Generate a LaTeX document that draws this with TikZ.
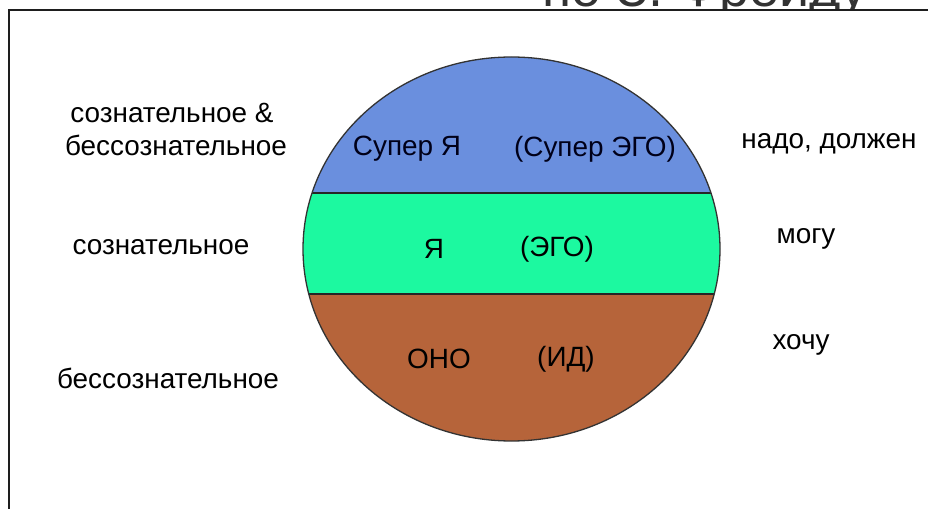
\documentclass[tikz,border=0pt]{standalone}
\usepackage{fontspec}
\setmainfont{Liberation Sans}
\definecolor{superblue}{HTML}{6A8FDE}
\definecolor{egogreen}{HTML}{1CF9A0}
\definecolor{idbrown}{HTML}{B6643A}
\definecolor{framegray}{HTML}{1E1E1E}
\tikzset{
  lbl/.style={inner sep=0pt, font=\fontsize{28}{32}\selectfont, text=black, align=center},
  inlbl/.style={lbl, text=black!90!blue},
}
\begin{document}
\begin{tikzpicture}[x=1bp,y=-1bp]
\useasboundingbox (0,0) rectangle (928,509);
\fill[white] (0,0) rectangle (928,509);
% title partly hidden behind the slide frame
\node[anchor=base west, inner sep=0pt, font=\fontsize{54}{58}\selectfont, text=black!80] (title) at (542,7) {по З. Фрейду};
% slide frame
\draw[framegray, line width=2bp, fill=white] (9,10) rectangle (960,540);
% ellipse layers
\coordinate (c) at (511.5,249);
\begin{scope}
  \clip (c) ellipse [x radius=208.5, y radius=192];
  \fill[superblue] (300,50) rectangle (730,193);
  \fill[egogreen] (300,193) rectangle (730,294);
  \fill[idbrown] (300,294) rectangle (730,450);
  \draw[black!85, line width=1.3bp] (300,193) -- (730,193);
  \draw[black!85, line width=1.3bp] (300,294) -- (730,294);
\end{scope}
\draw[black!80, line width=1.3bp] (c) ellipse [x radius=208.5, y radius=192];
% texts inside
\node[inlbl] (superya) at (407,149) {Супер Я};
\node[inlbl] (superego) at (595,149) {(Супер ЭГО)};
\node[lbl] (ya) at (434,249) {Я};
\node[lbl] (ego) at (557,249) {(ЭГО)};
\node[lbl] (ono) at (439,359) {ОНО};
\node[lbl] (id) at (566,359) {(ИД)};
% left texts
\node[lbl] (consunc1) at (172,113) {сознательное \&};
\node[lbl] (consunc2) at (176,145) {бессознательное};
\node[lbl] (cons) at (161,247) {сознательное};
\node[lbl] (uncons) at (168,378) {бессознательное};
% right texts
\node[lbl] (nado) at (829,144) {надо, должен};
\node[lbl] (mogu) at (806,239) {могу};
\node[lbl] (hochu) at (801,345) {хочу};
\end{tikzpicture}
\end{document}
